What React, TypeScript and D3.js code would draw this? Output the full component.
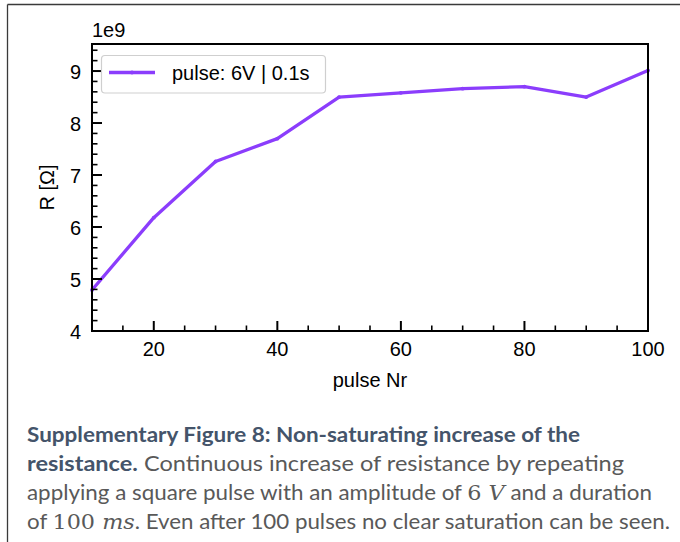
import React from "react";
import * as d3 from "d3";

const pulses = [10, 20, 30, 40, 50, 60, 70, 80, 90, 100];
const resistance = [4.79, 6.18, 7.26, 7.7, 8.5, 8.58, 8.66, 8.7, 8.5, 9.01]; // ×1e9 Ω
const xTicks = [20, 40, 60, 80, 100];
const yTicks = [4, 5, 6, 7, 8, 9];
const legendLabel = "pulse: 6V | 0.1s";

const W = 680;
const H = 542;
const M = { left: 92, right: 648, top: 44, bottom: 331 };
const LINE = "#8b3dfc";
const FONT = "'Liberation Sans', Arial, Helvetica, sans-serif";

export default function App() {
  const x = d3.scaleLinear().domain([10, 100]).range([M.left, M.right]);
  const y = d3.scaleLinear().domain([4, 9.52]).range([M.bottom, M.top]);
  const line = d3
    .line<number>()
    .x((_, i) => x(pulses[i]))
    .y((d) => y(d));
  const path = line(resistance) || "";

  const xMinor = d3.range(15, 100, 5).filter((v) => v % 20 !== 0);
  const yMinor = d3.range(4.2, 9.5, 0.2).filter((v) => Math.abs(v - Math.round(v)) > 0.05);

  const capReg = "#595959";
  const capBold = "#44546a";
  const capFont = "Lato, 'Open Sans', sans-serif";
  const mathFont = "'DejaVu Serif', 'Liberation Serif', serif";
  const capSize = 21;

  return (
    <svg
      width={W}
      height={H}
      style={{ position: "absolute", left: 0, top: 0, background: "#fff" }}
    >
      <rect x={0} y={0} width={W} height={H} fill="#fff" />
      {/* outer frame */}
      <line x1={7.5} y1={4.5} x2={W} y2={4.5} stroke="#3a3a3a" strokeWidth={1.3} />
      <line x1={7.5} y1={4.5} x2={7.5} y2={H} stroke="#3a3a3a" strokeWidth={1.3} />

      {/* data line */}
      <clipPath id="plotclip">
        <rect x={M.left} y={M.top} width={M.right - M.left} height={M.bottom - M.top} />
      </clipPath>
      <path d={path} fill="none" stroke={LINE} strokeWidth={3.3} strokeLinejoin="round" clipPath="url(#plotclip)" />
      {pulses.map((p, i) => (
        <circle key={p} cx={x(p)} cy={y(resistance[i])} r={1.9} fill={LINE} />
      ))}

      {/* ticks */}
      {xTicks.map((t) => (
        <g key={"xt" + t}>
          <line x1={x(t)} x2={x(t)} y1={M.bottom} y2={M.bottom - 10} stroke="#000" strokeWidth={2} />
          <text x={x(t)} y={356} textAnchor="middle" fontFamily={FONT} fontSize={20} fill="#000">
            {t}
          </text>
        </g>
      ))}
      {xMinor.map((t) => (
        <line key={"xm" + t} x1={x(t)} x2={x(t)} y1={M.bottom} y2={M.bottom - 5.5} stroke="#000" strokeWidth={1.6} />
      ))}
      {yTicks.map((t) => (
        <g key={"yt" + t}>
          <line x1={M.left} x2={M.left + 10} y1={y(t)} y2={y(t)} stroke="#000" strokeWidth={2} />
          <text x={81} y={y(t) + 7.5} textAnchor="end" fontFamily={FONT} fontSize={20} fill="#000">
            {t}
          </text>
        </g>
      ))}
      {yMinor.map((t) => (
        <line key={"ym" + t.toFixed(1)} x1={M.left} x2={M.left + 5.5} y1={y(t)} y2={y(t)} stroke="#000" strokeWidth={1.6} />
      ))}

      {/* spines */}
      <rect
        x={M.left}
        y={M.top}
        width={M.right - M.left}
        height={M.bottom - M.top}
        fill="none"
        stroke="#000"
        strokeWidth={2}
      />

      {/* offset text & labels */}
      <text x={92} y={37} fontFamily={FONT} fontSize={20} fill="#000">
        1e9
      </text>
      <text x={(M.left + M.right) / 2} y={387} textAnchor="middle" fontFamily={FONT} fontSize={20} fill="#000">
        pulse Nr
      </text>
      <text
        transform={`translate(54,${(M.top + M.bottom) / 2}) rotate(-90)`}
        textAnchor="middle"
        fontFamily={FONT}
        fontSize={20}
        fill="#000"
      >
        R [Ω]
      </text>

      {/* legend */}
      <rect x={101.5} y={55.5} width={224} height={37.5} rx={3.5} fill="#fff" fillOpacity={0.85} stroke="#cfcfcf" strokeWidth={1.2} />
      <line x1={109} x2={155} y1={72.5} y2={72.5} stroke={LINE} strokeWidth={3.3} />
      <circle cx={132} cy={72.5} r={1.9} fill={LINE} />
      <text x={172} y={79.5} fontFamily={FONT} fontSize={20} fill="#000">
        {legendLabel}
      </text>

      {/* caption */}
      <text x={27} y={442} fontFamily={capFont} fontSize={capSize} fontWeight="bold" fill={capBold} textLength={553} lengthAdjust="spacingAndGlyphs">
        Supplementary Figure 8: Non-saturating increase of the
      </text>
      <text x={27} y={471} fontFamily={capFont} fontSize={capSize} fill={capReg} textLength={597} lengthAdjust="spacingAndGlyphs">
        <tspan fontWeight="bold" fill={capBold}>resistance.</tspan> Continuous increase of resistance by repeating
      </text>
      <text x={27} y={500} fontFamily={capFont} fontSize={capSize} fill={capReg} textLength={625} lengthAdjust="spacingAndGlyphs">
        applying a square pulse with an amplitude of{" "}
        <tspan fontFamily={mathFont}>6 </tspan>
        <tspan fontFamily={mathFont} fontStyle="italic">V</tspan> and a duration
      </text>
      <text x={27} y={529} fontFamily={capFont} fontSize={capSize} fill={capReg} textLength={643} lengthAdjust="spacingAndGlyphs">
        of <tspan fontFamily={mathFont}>100 </tspan>
        <tspan fontFamily={mathFont} fontStyle="italic">ms</tspan>. Even after 100 pulses no clear saturation can be seen.
      </text>
    </svg>
  );
}
